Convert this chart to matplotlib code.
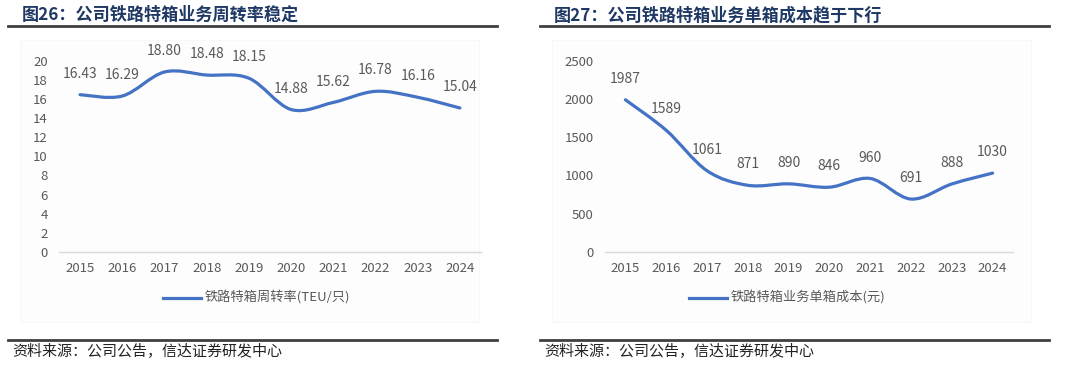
import matplotlib
matplotlib.use("Agg")
import matplotlib.pyplot as plt
from matplotlib.path import Path
from matplotlib.patches import PathPatch, Rectangle
from matplotlib.lines import Line2D

plt.rcParams['font.family'] = ['Noto Sans CJK SC', 'DejaVu Sans']

years = ['2015', '2016', '2017', '2018', '2019', '2020', '2021', '2022', '2023', '2024']
turnover = [16.43, 16.29, 18.80, 18.48, 18.15, 14.88, 15.62, 16.78, 16.16, 15.04]
unit_cost = [1987, 1589, 1061, 871, 890, 846, 960, 691, 888, 1030]

title_left = '图26：公司铁路特箱业务周转率稳定'
title_right = '图27：公司铁路特箱业务单箱成本趋于下行'
legend_left = '铁路特箱周转率(TEU/只)'
legend_right = '铁路特箱业务单箱成本(元)'
source = '资料来源：公司公告，信达证券研发中心'

BLUE = '#4472C4'
GRAY = '#595959'
W, H = 1080, 373

fig = plt.figure(figsize=(W / 100, H / 100), dpi=100)
fig.patch.set_facecolor('white')


def smooth_path(xs, ys):
    verts = [(xs[0], ys[0])]
    codes = [Path.MOVETO]
    n = len(xs)
    for i in range(n - 1):
        p0 = (xs[max(i - 1, 0)], ys[max(i - 1, 0)])
        p1 = (xs[i], ys[i])
        p2 = (xs[i + 1], ys[i + 1])
        p3 = (xs[min(i + 2, n - 1)], ys[min(i + 2, n - 1)])
        c1 = (p1[0] + (p2[0] - p0[0]) / 6, p1[1] + (p2[1] - p0[1]) / 6)
        c2 = (p2[0] - (p3[0] - p1[0]) / 6, p2[1] - (p3[1] - p1[1]) / 6)
        verts += [c1, c2, p2]
        codes += [Path.CURVE4] * 3
    return Path(verts, codes)


def fx(px):
    return px / W


def fy(py):
    return 1 - py / H


def panel(x0, x1, ylim, yticks, values, labels, title, legend, lx, sx, sx1):
    # faint chart-area background
    fig.patches.append(Rectangle((fx(sx + 12), fy(322)), fx(sx1 - sx - 30), fy(40) - fy(322),
                                 transform=fig.transFigure, facecolor='#FDFDFD',
                                 edgecolor='#F8F8F8', lw=0.6, zorder=-5))
    ax = fig.add_axes([fx(x0), fy(252), fx(x1 - x0), fy(60.5) - fy(252)])
    ax.set_facecolor('none')
    ax.set_zorder(2)
    xs = list(range(len(years)))
    ax.add_patch(PathPatch(smooth_path(xs, values), facecolor='none', edgecolor=BLUE,
                           lw=2.3, capstyle='round', joinstyle='round', zorder=3))
    ax.set_xlim(-0.5, len(years) - 0.5)
    ax.set_ylim(*ylim)
    ax.set_yticks(yticks)
    ax.set_xticks(xs)
    ax.set_xticklabels(years)
    for s in ['top', 'right', 'left']:
        ax.spines[s].set_visible(False)
    ax.spines['bottom'].set_color('#D9D9D9')
    ax.spines['bottom'].set_linewidth(1.0)
    ax.tick_params(axis='both', length=0, colors=GRAY, labelsize=9.5)
    ax.tick_params(axis='x', pad=7)
    ax.tick_params(axis='y', pad=8)
    for x, v, t in zip(xs, values, labels):
        ax.annotate(t, (x, v), xytext=(0, 10), textcoords='offset points',
                    ha='center', va='bottom', fontsize=10, color=GRAY)
    # title and rules
    fig.text(fx(sx + 14), fy(15), title, fontsize=12.3, fontweight='bold', color='#1F3864',
             va='center', ha='left')
    fig.add_artist(Line2D([fx(sx), fx(sx1)], [fy(25.5), fy(25.5)], transform=fig.transFigure,
                          color='#404040', lw=2))
    fig.add_artist(Line2D([fx(sx), fx(sx1)], [fy(339.5), fy(339.5)], transform=fig.transFigure,
                          color='#404040', lw=2))
    fig.text(fx(sx + 4), fy(352), source, fontsize=10.8, color='#222222', style='italic',
             va='center', ha='left')
    # legend
    fig.add_artist(Line2D([fx(lx), fx(lx + 38)], [fy(298), fy(298)], transform=fig.transFigure,
                          color=BLUE, lw=2.3))
    fig.text(fx(lx + 42), fy(298), legend, fontsize=9.5, color=GRAY, va='center', ha='left')


panel(59, 481, (0, 20), list(range(0, 21, 2)), turnover,
      [f'{v:.2f}' for v in turnover], title_left, legend_left, 163, 8, 497)
panel(605, 1013, (0, 2500), list(range(0, 2501, 500)), unit_cost,
      [f'{v}' for v in unit_cost], title_right, legend_right, 689, 540, 1049)

fig.savefig('out.png', dpi=100, facecolor='white')
